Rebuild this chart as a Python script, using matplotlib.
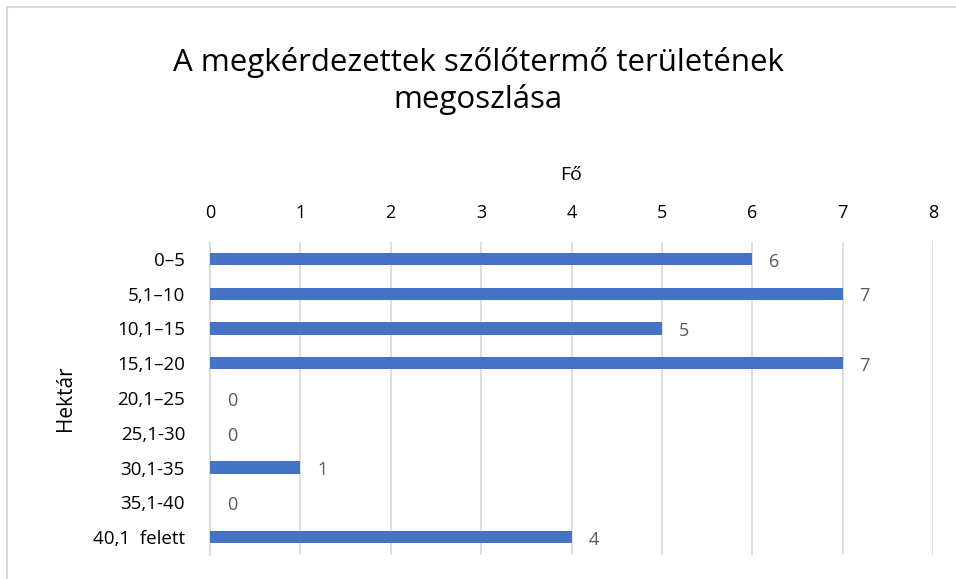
import matplotlib

matplotlib.use("Agg")
import matplotlib.pyplot as plt
from matplotlib.patches import Rectangle

categories = ["0–5", "5,1–10", "10,1–15", "15,1–20", "20,1–25",
              "25,1-30", "30,1-35", "35,1-40", "40,1  felett"]
values = [6, 7, 5, 7, 0, 0, 1, 0, 4]
x_ticks = [0, 1, 2, 3, 4, 5, 6, 7, 8]

BAR = "#4472C4"
TXT = "#595959"
GRID = "#D9D9D9"

plt.rcParams["font.family"] = ["Open Sans", "DejaVu Sans"]

fig = plt.figure(figsize=(9.56, 5.79), dpi=100)
ax = fig.add_axes([210 / 956, 1 - 554.5 / 579, (933 - 210) / 956, (554.5 - 241.5) / 579])

ypos = list(range(len(categories)))
ax.barh(ypos, values, height=0.35, color=BAR, zorder=3)
for y, v in zip(ypos, values):
    ax.annotate(str(v), (v, y), xytext=(12, -2), textcoords="offset points",
                ha="left", va="center", fontsize=13, color=TXT)

ax.set_xlim(0, 8)
ax.set_ylim(len(categories) - 0.5, -0.5)
ax.set_xticks(x_ticks)
ax.set_yticks(ypos)
ax.set_yticklabels(categories, fontsize=13.5, color="black")
ax.xaxis.tick_top()
ax.xaxis.set_label_position("top")
ax.tick_params(axis="x", labelsize=13, labelcolor="black", length=0, pad=14)
ax.tick_params(axis="y", length=0, pad=18)
ax.set_xlabel("Fő", fontsize=14, labelpad=17)
ax.set_ylabel("Hektár", fontsize=15, labelpad=12)
ax.grid(axis="x", color=GRID, linewidth=1.2, zorder=0)
for s in ("top", "right", "bottom"):
    ax.spines[s].set_visible(False)
ax.spines["left"].set_color(GRID)
ax.spines["left"].set_linewidth(1.2)

fig.text(0.5, 1 - 81 / 579, "A megkérdezettek szőlőtermő területének\nmegoszlása",
         ha="center", va="center", fontsize=22.5, linespacing=1.25)

fig.patches.append(Rectangle((7 / 956, -0.01), 1.0, 1 - 7 / 579 + 0.01,
                             transform=fig.transFigure, fill=False,
                             edgecolor="#D9D9D9", linewidth=1.5))

fig.savefig("out.png", dpi=100)
